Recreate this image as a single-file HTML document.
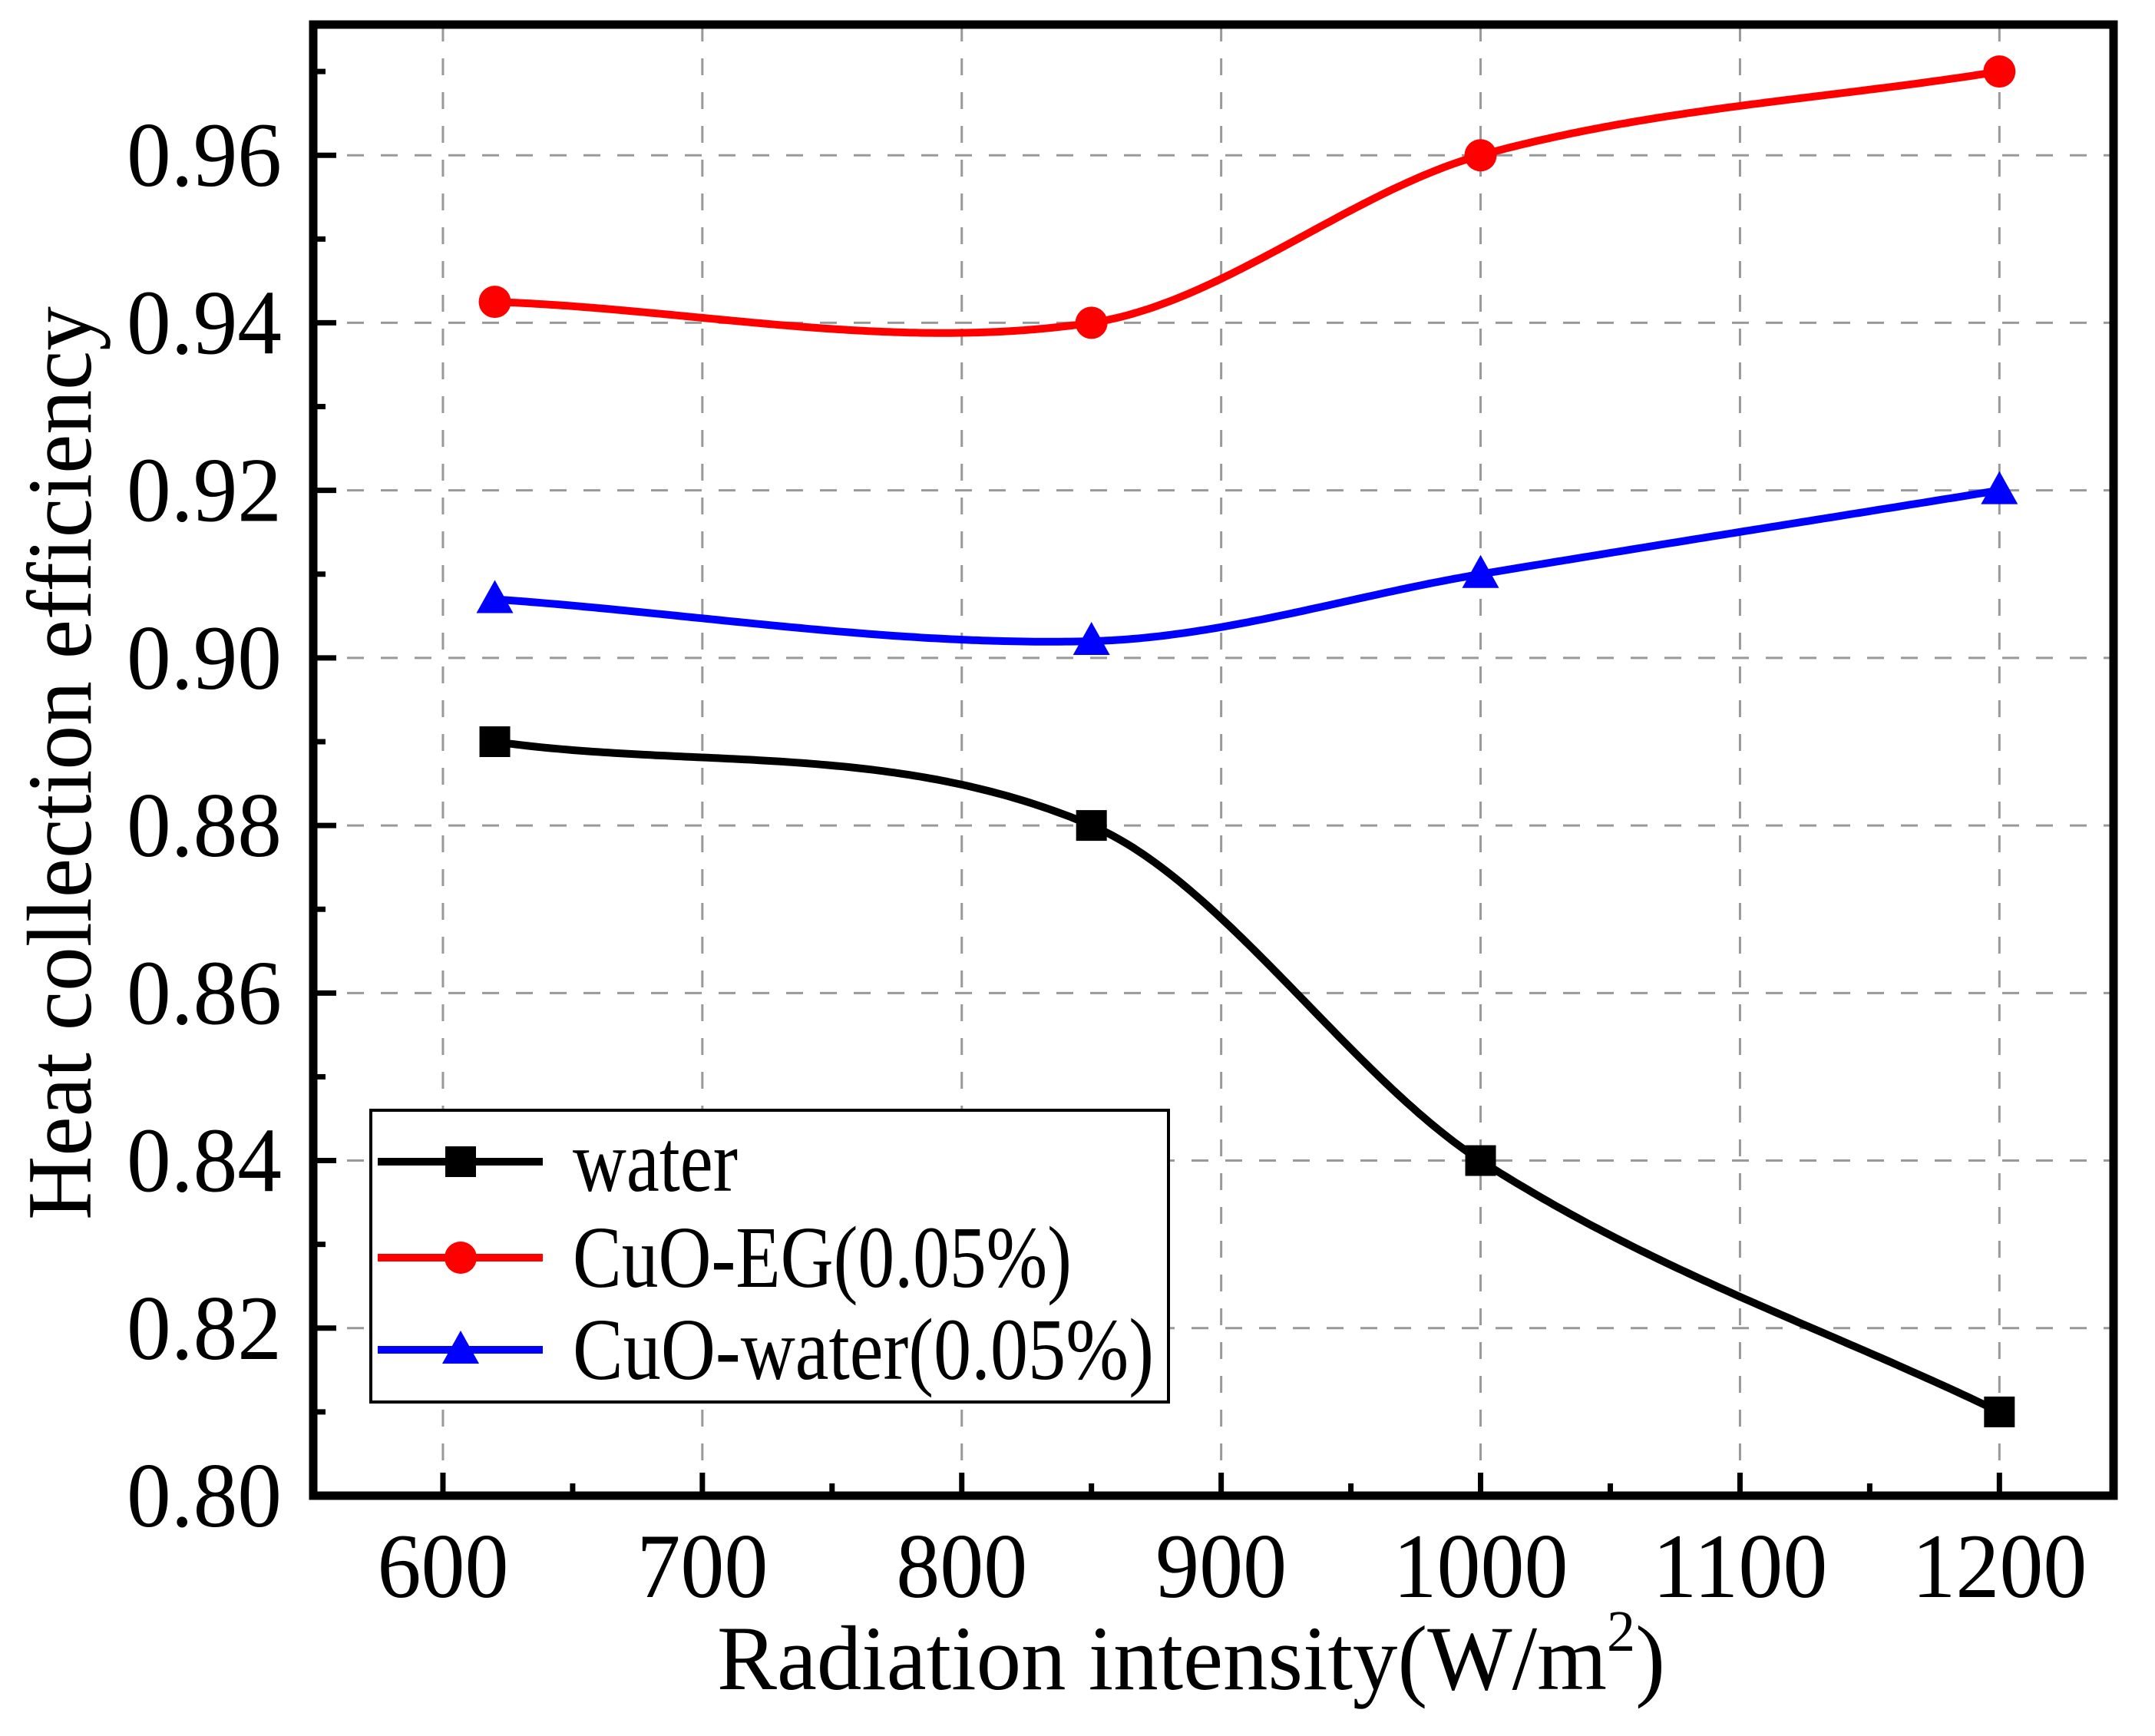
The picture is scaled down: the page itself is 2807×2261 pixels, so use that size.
<!DOCTYPE html>
<html><head><meta charset="utf-8"><style>
html,body{margin:0;padding:0;background:#fff}
svg{display:block}
text{font-family:"Liberation Serif","Times New Roman",serif;fill:#000}
</style></head><body>
<svg id="chart" width="2807" height="2261" viewBox="0 0 2807 2261" xmlns="http://www.w3.org/2000/svg">
<g id="grid"></g>
<g id="series"></g>
<g id="axes"></g>
<text transform="translate(118,994) rotate(-90)" text-anchor="middle" font-size="120" textLength="1190" lengthAdjust="spacingAndGlyphs">Heat collection efficiency</text>
<text x="934" y="2200" font-size="120" textLength="1235" lengthAdjust="spacingAndGlyphs">Radiation intensity(W/m<tspan font-size="76" dy="-50">2</tspan><tspan dy="50">)</tspan></text>
<g id="legend"></g>
</svg>
<script>
const xTicks = [600, 700, 800, 900, 1000, 1100, 1200];
const yTicks = [0.80, 0.82, 0.84, 0.86, 0.88, 0.90, 0.92, 0.94, 0.96];
const yTickLabels = ["0.80","0.82","0.84","0.86","0.88","0.90","0.92","0.94","0.96"];
const xValues = [620, 850, 1000, 1200];
const waterValues = [0.89, 0.88, 0.84, 0.81];
const cuoEgValues = [0.9425, 0.94, 0.96, 0.97];
const cuoWaterValues = [0.907, 0.902, 0.91, 0.92];
const seriesNames = ["water", "CuO-EG(0.05%)", "CuO-water(0.05%)"];

const L=408,R=2753,T=32,B=1948;
const X0=550,X1=1244,Y0=0.80,Y1=0.9756;
const sx=v=>L+(v-X0)/(X1-X0)*(R-L);
const sy=v=>B-(v-Y0)/(Y1-Y0)*(B-T);
const NS="http://www.w3.org/2000/svg";
function mk(tag,attrs,parent){const e=document.createElementNS(NS,tag);for(const k in attrs)e.setAttribute(k,attrs[k]);parent.appendChild(e);return e;}
const grid=document.getElementById('grid'),axes=document.getElementById('axes'),ser=document.getElementById('series'),leg=document.getElementById('legend');

xTicks.forEach(v=>{const l=mk('line',{x1:sx(v),x2:sx(v),y1:T,y2:B,stroke:'#999','stroke-width':3,'stroke-dasharray':'22,22'},grid);

});
yTicks.forEach(v=>{const l=mk('line',{x1:L,x2:R,y1:sy(v),y2:sy(v),stroke:'#999','stroke-width':3,'stroke-dasharray':'22,22'},grid);

});

function curve(xs,ys){const n=xs.length,m=[];
for(let i=0;i<n;i++){if(i===0)m[i]=(ys[1]-ys[0])/(xs[1]-xs[0]);else if(i===n-1)m[i]=(ys[n-1]-ys[n-2])/(xs[n-1]-xs[n-2]);else m[i]=(ys[i+1]-ys[i-1])/(xs[i+1]-xs[i-1]);}
return x=>{let j=0;while(j<n-2&&x>xs[j+1])j++;const h=xs[j+1]-xs[j],t=(x-xs[j])/h,t2=t*t,t3=t2*t;
return (2*t3-3*t2+1)*ys[j]+(t3-2*t2+t)*h*m[j]+(-2*t3+3*t2)*ys[j+1]+(t3-t2)*h*m[j+1];};}

const colors=['#000','#ff0000','#0000ff'];
const markers=['square','circle','triangle'];
function marker(type,x,y,col,parent){let m;
if(type==='square')m=mk('rect',{x:x-20,y:y-20,width:40,height:40,fill:col},parent);
else if(type==='circle')m=mk('circle',{cx:x,cy:y,r:21,fill:col},parent);
else m=mk('polygon',{points:`${x},${y-25} ${x+24},${y+18} ${x-24},${y+18}`,fill:col},parent);
return m;}

[waterValues,cuoEgValues,cuoWaterValues].forEach((vals,i)=>{
const f=curve(xValues,vals);let d='';
for(let x=xValues[0];x<=xValues[xValues.length-1];x+=2){d+=(d?'L':'M')+sx(x).toFixed(1)+','+sy(f(x)).toFixed(1);}
const p=mk('path',{d:d,fill:'none',stroke:colors[i],'stroke-width':10},ser);


vals.forEach((v,k)=>{const m=marker(markers[i],sx(xValues[k]),sy(v),colors[i],ser);

});
});

const fr=mk('rect',{x:L,y:T,width:R-L,height:B-T,fill:'none',stroke:'#000','stroke-width':11},axes);


xTicks.forEach((v,i)=>{const t=mk('line',{x1:sx(v),x2:sx(v),y1:B,y2:B-30,stroke:'#000','stroke-width':7},axes);


if(i<xTicks.length-1){const m=mk('line',{x1:sx(v+50),x2:sx(v+50),y1:B,y2:B-16,stroke:'#000','stroke-width':7},axes);

}
const s=String(v);
const tx=mk('text',{x:sx(v),y:2080,'text-anchor':'middle','font-size':120,textLength:s.length*57,lengthAdjust:'spacingAndGlyphs'},axes);tx.textContent=s;

});
yTicks.forEach((v,i)=>{const t=mk('line',{x1:L,x2:L+30,y1:sy(v),y2:sy(v),stroke:'#000','stroke-width':7},axes);


const m=mk('line',{x1:L,x2:L+16,y1:sy(v+0.01),y2:sy(v+0.01),stroke:'#000','stroke-width':7},axes);


const tx=mk('text',{x:367,y:sy(v)+40,'text-anchor':'end','font-size':120,textLength:202,lengthAdjust:'spacingAndGlyphs'},axes);tx.textContent=yTickLabels[i];

});

const box=mk('rect',{x:483,y:1446,width:1039,height:380,fill:'#fff',stroke:'#000','stroke-width':4},leg);


const ly=[1513,1638,1758];
const lw=[215,650,757];
seriesNames.forEach((n,i)=>{const g=mk('g',{},leg);


mk('line',{x1:492,x2:707,y1:ly[i],y2:ly[i],stroke:colors[i],'stroke-width':10},g);
marker(markers[i],600,ly[i],colors[i],g);
const t=mk('text',{x:746,y:ly[i]+38,'font-size':114,textLength:lw[i],lengthAdjust:'spacingAndGlyphs'},g);t.textContent=n;});
</script>
</body></html>
